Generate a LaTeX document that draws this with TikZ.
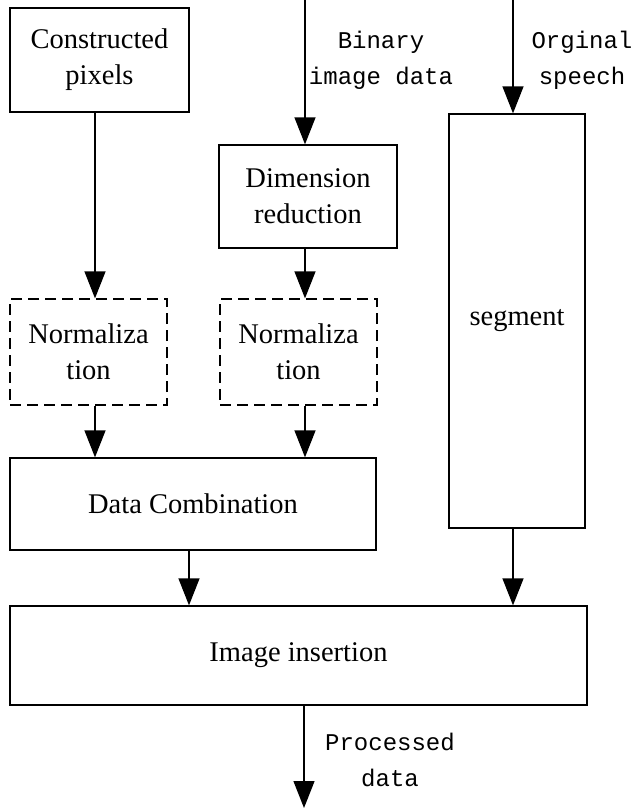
\documentclass[tikz,border=0pt]{standalone}
\usepackage{fontspec}
\setmainfont{Liberation Serif}
\newfontfamily\labelmono{Liberation Mono}
\usetikzlibrary{arrows.meta,positioning}

\begin{document}
\begin{tikzpicture}[
  x=1pt, y=-1pt,
  font=\fontsize{28.5}{36}\selectfont,
  blk/.style={rectangle, draw=black, line width=1.3pt, inner sep=0pt, align=center},
  dblk/.style={blk, dash pattern=on 11pt off 6pt},
  lbl/.style={align=center, font=\labelmono\fontsize{24}{36}\selectfont},
  arr/.style={-{Triangle[length=27pt,width=21pt]}, line width=1.3pt}
]
\useasboundingbox (0,0) rectangle (633,808);

% Boxes
\node[blk, minimum width=179pt, minimum height=104pt] (cons) at (99.5,60) {Constructed\\pixels};
\node[blk, minimum width=178pt, minimum height=103pt] (dim) at (308,196.5) {Dimension\\reduction};
\node[blk, minimum width=136pt, minimum height=414pt] (seg) at (517,321) {segment};
\node[dblk, minimum width=157pt, minimum height=106pt] (norma) at (88.5,352) {Normaliza\\tion};
\node[dblk, minimum width=157pt, minimum height=106pt] (normb) at (298.5,352) {Normaliza\\tion};
\node[blk, minimum width=366pt, minimum height=92pt] (comb) at (193,504) {Data Combination};
\node[blk, minimum width=577pt, minimum height=99pt] (ins) at (298.5,655.5) {Image insertion};

% Inputs and output
\coordinate (binin) at (305,0);
\coordinate (spin) at (513,0);
\coordinate (out) at (304,808);
\node[lbl] (binlbl) at (381,60) {Binary\\image data};
\node[lbl] (splbl) at (582,60) {Orginal\\speech};
\node[lbl] (outlbl) at (390,760) {Processed\\data};

% Connections
\draw[arr] (binin) -- (binin |- dim.north);
\draw[arr] (spin) -- (spin |- seg.north);
\draw[arr] ([xshift=6.5pt]norma.north |- cons.south) -- ([xshift=6.5pt]norma.north);
\draw[arr] ([xshift=6.5pt]normb.north |- dim.south) -- ([xshift=6.5pt]normb.north);
\draw[arr] ([xshift=6.5pt]norma.south) -- ([xshift=6.5pt]norma.south |- comb.north);
\draw[arr] ([xshift=6.5pt]normb.south) -- ([xshift=6.5pt]normb.south |- comb.north);
\draw[arr] ([xshift=-4pt]comb.south) -- ([xshift=-4pt]comb.south |- ins.north);
\draw[arr] ([xshift=-4pt]seg.south) -- ([xshift=-4pt]seg.south |- ins.north);
\draw[arr] (out |- ins.south) -- (out);

\end{tikzpicture}
\end{document}
